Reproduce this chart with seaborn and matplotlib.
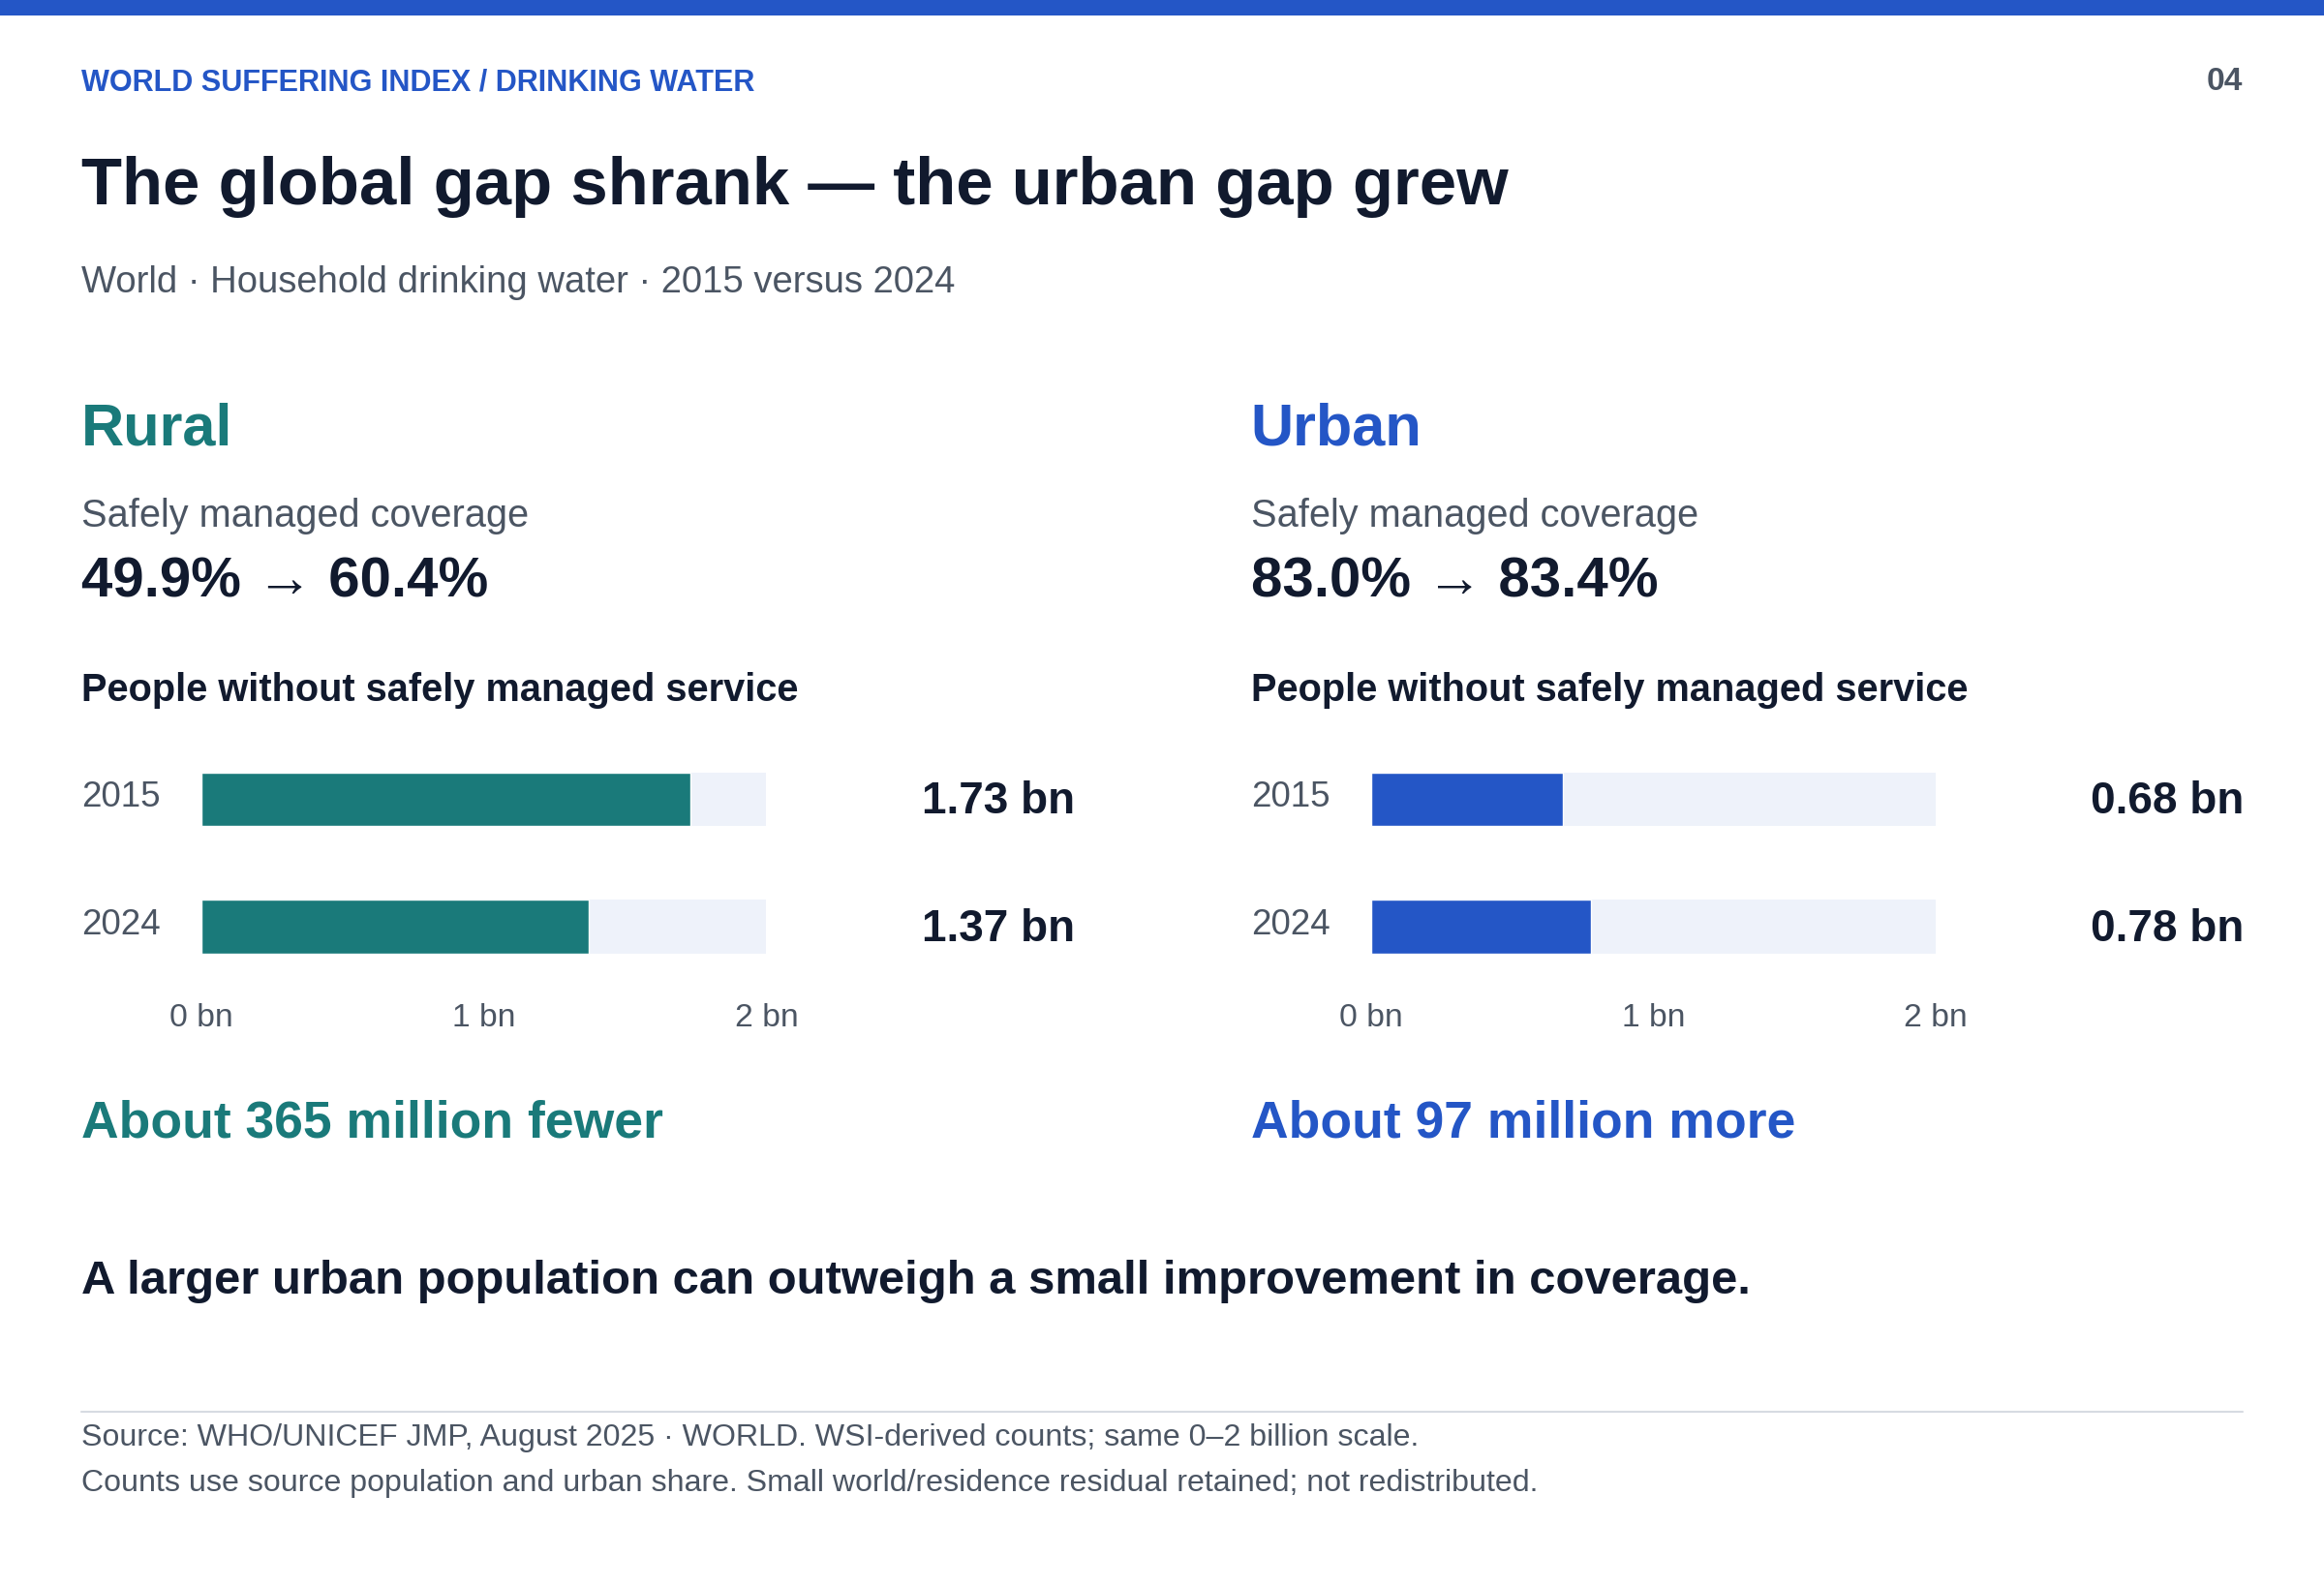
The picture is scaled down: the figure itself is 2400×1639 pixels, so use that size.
import matplotlib
matplotlib.use("Agg")
import matplotlib.pyplot as plt
import seaborn as sns
import pandas as pd

sns.set_theme(style="white")
plt.rcParams['font.family'] = ['Liberation Sans', 'DejaVu Sans']

years = ["2015", "2024"]
rural_bn = [1.73, 1.37]
urban_bn = [0.68, 0.78]
scale_max = [2.0, 2.0]
ticks = [0, 1, 2]
tick_labels = ["0 bn", "1 bn", "2 bn"]
rural_cov = ("49.9%", "60.4%")
urban_cov = ("83.0%", "83.4%")

W, H = 1568, 1071.5
S = 2400 / 1568
fig = plt.figure(figsize=(24, 16.4), dpi=100)

def fs(px):
    return px * S * 0.72

def T(x, y, s, size, color, bold=False, ha='left', va='center'):
    fig.text(x / W, 1 - y / H, s, fontsize=fs(size), color=color,
             fontweight='bold' if bold else 'normal', ha=ha, va=va)

NAVY = "#111A2E"; GRAY = "#4B5563"; BLUE = "#2456C6"; TEAL = "#1A7A7A"; TRACK = "#EEF2FA"

# top bar
fig.add_artist(plt.Rectangle((0, 1 - 11 / H), 1, 11 / H, transform=fig.transFigure, color=BLUE, lw=0))
T(55, 56, "WORLD SUFFERING INDEX / DRINKING WATER", 20, BLUE, True)
T(1513, 55, "04", 22, GRAY, True, ha='right')
T(55, 126, "The global gap shrank — the urban gap grew", 45, NAVY, True)
T(55, 191, "World · Household drinking water · 2015 versus 2024", 25, GRAY)

panels = [(55, "Rural", TEAL, rural_cov, rural_bn, 725),
          (844, "Urban", BLUE, urban_cov, urban_bn, 1514)]
for x0, name, col, cov, vals, vx in panels:
    T(x0, 290, name, 40, col, True)
    T(x0, 348, "Safely managed coverage", 26, GRAY)
    T(x0, 393, f"{cov[0]} → {cov[1]}", 38, NAVY, True)
    T(x0, 466, "People without safely managed service", 26, NAVY, True)
    axl = x0 + 81; axr = x0 + 462
    top, bot = 505, 661
    ax = fig.add_axes([axl / W, 1 - bot / H, (axr - axl) / W, (bot - top) / H])
    ax.barh([0, 1], scale_max, height=0.42, color=TRACK, lw=0)
    df = pd.DataFrame({"year": years, "bn": vals})
    sns.barplot(data=df, x="bn", y="year", order=years, orient='h', color=col,
                width=0.42, ax=ax, saturation=1)
    ax.set_xlim(0, 2); ax.set_ylim(1.407, -0.407)
    ax.axis('off')
    for i, (yr, v) in enumerate(zip(years, vals)):
        yy = 538 + 86 * i
        T(x0, yy, yr, 24, GRAY)
        T(vx, yy + 3, f"{v:.2f} bn", 30, NAVY, True, ha='right')
    for t, lab in zip(ticks, tick_labels):
        T(axl + (axr - axl) * t / 2, 687, lab, 22, GRAY, ha='center')

T(55, 758, "About 365 million fewer", 35, TEAL, True)
T(844, 758, "About 97 million more", 35, BLUE, True)
T(55, 865, "A larger urban population can outweigh a small improvement in coverage.", 32, NAVY, True)
fig.add_artist(plt.Line2D([55 / W, 1513 / W], [1 - 953 / H] * 2, transform=fig.transFigure, color="#D7DBE2", lw=1.5))
T(55, 970, "Source: WHO/UNICEF JMP, August 2025 · WORLD. WSI-derived counts; same 0–2 billion scale.", 21, GRAY)
T(55, 1001, "Counts use source population and urban share. Small world/residence residual retained; not redistributed.", 21, GRAY)

fig.savefig("out.png", dpi=100, facecolor="white")
